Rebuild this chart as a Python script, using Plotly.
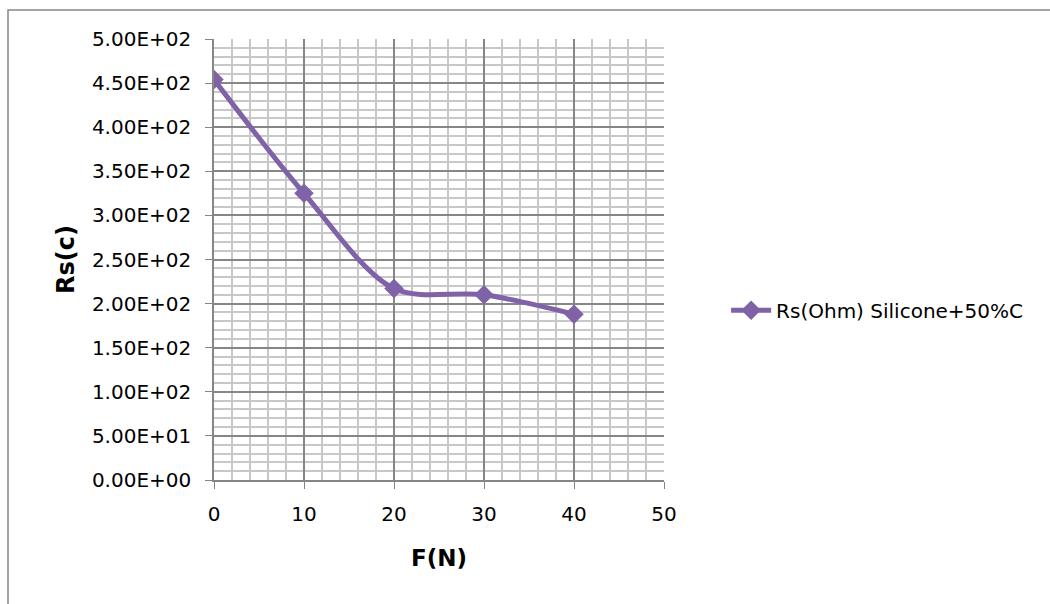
import plotly.graph_objects as go

force = [0, 10, 20, 30, 40]
rs = [454, 325, 217, 210, 188]
series_name = "Rs(Ohm) Silicone+50%C"

y_tickvals = [0, 50, 100, 150, 200, 250, 300, 350, 400, 450, 500]
y_ticktext = ["0.00E+00", "5.00E+01", "1.00E+02", "1.50E+02", "2.00E+02", "2.50E+02",
              "3.00E+02", "3.50E+02", "4.00E+02", "4.50E+02", "5.00E+02"]
x_tickvals = [0, 10, 20, 30, 40, 50]

purple = "#7F62A8"
font_family = "'DejaVu Sans', sans-serif"

fig = go.Figure()
fig.add_trace(go.Scatter(
    x=force, y=rs, name=series_name, mode="lines+markers",
    line=dict(color=purple, width=5, shape="spline", smoothing=0.9),
    marker=dict(symbol="diamond", size=15, color=purple),
))

fig.update_layout(
    width=1050, height=604,
    margin=dict(l=214, r=386, t=39, b=124),
    paper_bgcolor="white", plot_bgcolor="white",
    font=dict(family=font_family, size=20, color="black"),
    showlegend=True,
    legend=dict(x=1.138, y=0.385, xanchor="left", yanchor="middle",
                font=dict(size=20), bgcolor="rgba(0,0,0,0)", itemwidth=40),
    shapes=[dict(type="rect", xref="paper", yref="paper",
                 x0=-206/450, y0=-130/441, x1=1.9, y1=1 + 29/441,
                 line=dict(color="#868686", width=1.5), layer="below")],
)

fig.update_xaxes(
    range=[0, 50], tickvals=x_tickvals, ticks="outside", ticklen=7, tickcolor="#868686",
    ticklabelstandoff=8,
    showline=True, linecolor="#868686", linewidth=1.5, mirror=False,
    showgrid=True, gridcolor="#868686", gridwidth=1.5,
    minor=dict(dtick=2, showgrid=True, gridcolor="#C8C8C8", gridwidth=1.5),
    zeroline=False,
    title=dict(text="<b>F(N)</b>", font=dict(size=23), standoff=25),
    tickfont=dict(size=20),
)
fig.update_yaxes(
    range=[0, 500], tickvals=y_tickvals, ticktext=y_ticktext, ticks="outside",
    ticklen=7, tickcolor="#868686", ticklabelstandoff=10,
    showline=True, linecolor="#868686", linewidth=1.5,
    showgrid=True, gridcolor="#868686", gridwidth=1.5,
    minor=dict(dtick=10, showgrid=True, gridcolor="#C8C8C8", gridwidth=1.5),
    zeroline=False,
    title=dict(text="<b>Rs(c)</b>", font=dict(size=24), standoff=10),
    tickfont=dict(size=20),
)

fig.write_html("out.html")
